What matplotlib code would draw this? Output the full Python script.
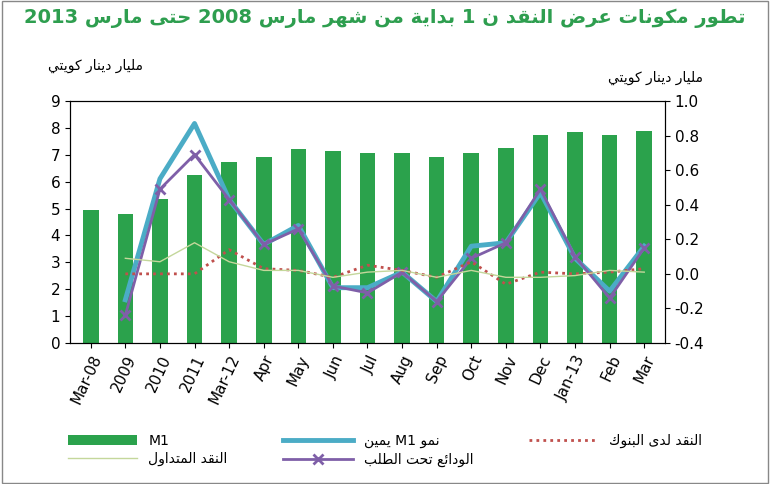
import matplotlib
matplotlib.use("Agg")
import matplotlib.pyplot as plt
import numpy as np
import re

# --- minimal Arabic shaper (presentation forms) ---
BASES = {'ا':(0xFE8D,0),'أ':(0xFE83,0),'إ':(0xFE87,0),'آ':(0xFE81,0),'ئ':(0xFE89,1),'ب':(0xFE8F,1),'ة':(0xFE93,0),'ت':(0xFE95,1),
'ث':(0xFE99,1),'ج':(0xFE9D,1),'ح':(0xFEA1,1),'خ':(0xFEA5,1),'د':(0xFEA9,0),'ذ':(0xFEAB,0),'ر':(0xFEAD,0),
'ز':(0xFEAF,0),'س':(0xFEB1,1),'ش':(0xFEB5,1),'ص':(0xFEB9,1),'ض':(0xFEBD,1),'ط':(0xFEC1,1),'ظ':(0xFEC5,1),
'ع':(0xFEC9,1),'غ':(0xFECD,1),'ف':(0xFED1,1),'ق':(0xFED5,1),'ك':(0xFED9,1),'ل':(0xFEDD,1),'م':(0xFEE1,1),
'ن':(0xFEE5,1),'ه':(0xFEE9,1),'و':(0xFEED,0),'ى':(0xFEEF,0),'ي':(0xFEF1,1)}
def shape(s):
    out = []
    for i, c in enumerate(s):
        if c not in BASES:
            out.append(c); continue
        base, dual = BASES[c]
        prev = s[i-1] if i > 0 else ''
        nxt = s[i+1] if i+1 < len(s) else ''
        jp = prev in BASES and BASES[prev][1] == 1
        jn = dual and nxt in BASES
        if jp and jn: f = 3
        elif jp: f = 1
        elif jn: f = 2
        else: f = 0
        out.append(chr(base + f))
    vis = ''.join(out)[::-1]
    vis = re.sub(r'[A-Za-z0-9]+', lambda m: m.group(0)[::-1], vis)
    return vis

# --- data ---
categories = ['Mar-08','2009','2010','2011','Mar-12','Apr','May','Jun','Jul','Aug','Sep','Oct','Nov','Dec','Jan-13','Feb','Mar']
m1 = [4.95,4.8,5.35,6.25,6.75,6.9,7.2,7.15,7.05,7.05,6.9,7.05,7.25,7.75,7.85,7.75,7.9]
m1_growth = [np.nan,-0.15,0.55,0.87,0.43,0.17,0.28,-0.08,-0.08,0.01,-0.16,0.16,0.18,0.47,0.09,-0.10,0.16]
demand_dep = [np.nan,-0.24,0.49,0.69,0.43,0.17,0.26,-0.07,-0.11,0.01,-0.16,0.09,0.18,0.49,0.10,-0.14,0.15]
cash_banks = [np.nan,0.0,0.0,0.0,0.14,0.03,0.02,-0.02,0.05,0.02,-0.02,0.07,-0.06,0.01,0.0,0.01,0.03]
currency = [np.nan,0.09,0.07,0.18,0.07,0.02,0.02,-0.02,0.01,0.02,-0.02,0.02,-0.02,-0.02,-0.01,0.02,0.01]

fig = plt.figure(figsize=(7.7,4.84), dpi=100)
ax = fig.add_axes([70/770, 1-343/484, 595/770, 242/484])
x = np.arange(len(categories))
b = ax.bar(x, m1, width=0.45, color='#2BA24C', label='M1')
ax.set_ylim(0,9); ax.set_yticks(range(10))
ax.set_xlim(-0.6, len(categories)-0.4)
ax.set_xticks(x)
ax.set_xticklabels(categories, rotation=65, ha='right', rotation_mode='anchor', fontsize=11)
ax.tick_params(axis='y', labelsize=11)
ax2 = ax.twinx()
ax2.set_ylim(-0.4,1.0); ax2.set_yticks(np.arange(-0.4,1.01,0.2))
ax2.set_yticklabels([f'{v:.1f}' for v in np.arange(-0.4,1.01,0.2)], fontsize=11)
l1, = ax2.plot(x, m1_growth, color='#4BACC6', lw=3.5)
l2, = ax2.plot(x, demand_dep, color='#7F5FA8', lw=2, marker='x', ms=7, mew=2)
l3, = ax2.plot(x, cash_banks, color='#C0504D', lw=2, ls=(0,(1,1.5)))
l4, = ax2.plot(x, currency, color='#C4D79B', lw=1)

fig.text(0.5, 0.963, shape('تطور مكونات عرض النقد ن 1 بداية من شهر مارس 2008 حتى مارس 2013'),
         ha='center', va='center', color='#2E9E4F', fontsize=14, fontweight='bold')
fig.text(48/770, 1-70/484, shape('مليار دينار كويتي'), fontsize=10)
fig.text(608/770, 1-82/484, shape('مليار دينار كويتي'), fontsize=10)

fig.legend([b, l4, l1, l2, l3], ['M1', shape('النقد المتداول'), shape('نمو M1 يمين'), shape('الودائع تحت الطلب'), shape('النقد لدى البنوك')],
           ncol=3, loc='lower center', bbox_to_anchor=(0.5, 0.01), frameon=False, fontsize=10,
           handlelength=5, columnspacing=4, labelspacing=0.3)
fig.patches.append(plt.Rectangle((0.002,0.002),0.996,0.996, transform=fig.transFigure, fill=False, ec='#888888', lw=1))
fig.savefig('out.png', dpi=100)
